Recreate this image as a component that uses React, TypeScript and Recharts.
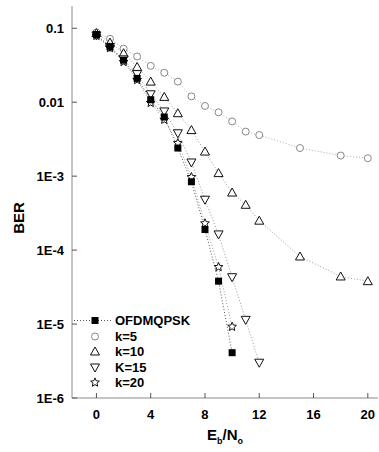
import React from "react";
import { Legend, Line, LineChart, XAxis, YAxis } from "recharts";

// Eb/No (dB) and BER
const xQpsk = [0, 1, 2, 3, 4, 5, 6, 7, 8, 9, 10];
const berQpsk = [0.082, 0.056, 0.037, 0.021, 0.0108, 0.0063, 0.0024, 8.4e-4, 1.9e-4, 3.8e-5, 4.1e-6];

const xK5 = [0, 1, 2, 3, 4, 5, 6, 7, 8, 9, 10, 11, 12, 15, 18, 20];
const berK5 = [0.088, 0.072, 0.053, 0.0415, 0.031, 0.025, 0.019, 0.012, 0.0089, 0.0073, 0.0055, 0.004, 0.0036, 0.0024, 0.0019, 0.00175];

const xK10 = [0, 1, 2, 3, 4, 5, 6, 7, 8, 9, 10, 11, 12, 15, 18, 20];
const berK10 = [0.086, 0.064, 0.046, 0.03, 0.019, 0.0118, 0.0071, 0.0042, 0.00215, 0.0011, 6.0e-4, 4.1e-4, 2.5e-4, 8.2e-5, 4.4e-5, 3.8e-5];

const xK15 = [0, 1, 2, 3, 4, 5, 6, 7, 8, 9, 10, 11, 12];
const berK15 = [0.08, 0.056, 0.038, 0.024, 0.0128, 0.0075, 0.0038, 0.00153, 4.8e-4, 1.63e-4, 4.3e-5, 1.14e-5, 3.0e-6];

const xK20 = [0, 1, 2, 3, 4, 5, 6, 7, 8, 9, 10];
const berK20 = [0.079, 0.054, 0.035, 0.02, 0.0098, 0.0058, 0.0028, 9.7e-4, 2.3e-4, 5.9e-5, 9.2e-6];

const seriesNames = ["OFDMQPSK", "k=5", "k=10", "K=15", "k=20"];

const xTicks = [0, 4, 8, 12, 16, 20];
const xMinorTicks = [2, 6, 10, 14, 18];
const yTicks = [1e-6, 1e-5, 1e-4, 1e-3, 0.01, 0.1];
const yTickLabels = ["1E-6", "1E-5", "1E-4", "1E-3", "0.01", "0.1"];
const yMinorTicks = yTicks
  .flatMap((d) => [2, 3, 4, 5, 6, 7, 8, 9].map((m) => d * m))
  .filter((v) => v < 0.2);

const X_DOMAIN: [number, number] = [-1.8, 20.75];
const Y_DOMAIN: [number, number] = [1e-6, 0.2];

const FONT = "Arial, 'Liberation Sans', Helvetica, sans-serif";
const AXIS = "#8a8a8a";

type Kind = "square" | "circle" | "triangle" | "down" | "star";
const kinds: Kind[] = ["square", "circle", "triangle", "down", "star"];

function Marker({ kind, cx, cy }: { kind: Kind; cx: number; cy: number }) {
  if (kind === "square") {
    return <rect x={cx - 3.5} y={cy - 3.5} width={7} height={7} fill="#000" />;
  }
  if (kind === "circle") {
    return <circle cx={cx} cy={cy} r={3.5} fill="#fff" stroke="#888" strokeWidth={1} />;
  }
  if (kind === "triangle") {
    const pts = `${cx},${cy - 4.5} ${cx + 4.5},${cy + 3.5} ${cx - 4.5},${cy + 3.5}`;
    return <polygon points={pts} fill="#fff" stroke="#111" strokeWidth={1} />;
  }
  if (kind === "down") {
    const pts = `${cx - 4.5},${cy - 3.5} ${cx + 4.5},${cy - 3.5} ${cx},${cy + 4.5}`;
    return <polygon points={pts} fill="#fff" stroke="#111" strokeWidth={1} />;
  }
  const pts: string[] = [];
  for (let i = 0; i < 10; i++) {
    const r = i % 2 === 0 ? 4.6 : 2.1;
    const a = -Math.PI / 2 + (i * Math.PI) / 5;
    pts.push(`${cx + r * Math.cos(a)},${cy + r * Math.sin(a)}`);
  }
  return <polygon points={pts.join(" ")} fill="#fff" stroke="#111" strokeWidth={1} />;
}

const dotFor = (kind: Kind) => (p: any) => (
  <g key={`${kind}-${p.index}`}>
    <Marker kind={kind} cx={p.cx} cy={p.cy} />
  </g>
);

const toRows = (xs: number[], ys: number[]) => xs.map((x, i) => ({ x, ber: ys[i] }));

function LegendBox() {
  return (
    <div style={{ fontFamily: FONT, fontWeight: 700, fontSize: 13, color: "#000" }}>
      {seriesNames.map((name, i) => (
        <div key={name} style={{ display: "flex", alignItems: "center", height: 15.5 }}>
          <svg width={45} height={15} style={{ display: "block" }}>
            {i === 0 && (
              <line x1={4} x2={42} y1={7.5} y2={7.5} stroke="#555" strokeDasharray="1 2" />
            )}
            <Marker kind={kinds[i]} cx={25} cy={7.5} />
          </svg>
          <span style={{ lineHeight: "15px" }}>{name}</span>
        </div>
      ))}
    </div>
  );
}

const tickStyle = { fontFamily: FONT, fontWeight: 700, fontSize: 13, fill: "#000" };

export default function App() {
  return (
    <div style={{ position: "absolute", left: 0, top: 0, width: 379, height: 452, background: "#fff" }}>
      <LineChart width={379} height={452} margin={{ top: 6, right: 1, bottom: 24, left: 0 }}>
        <XAxis
          dataKey="x"
          type="number"
          domain={X_DOMAIN}
          allowDataOverflow
          ticks={xTicks}
          interval={0}
          height={30}
          tickSize={-5}
          tickMargin={17}
          tick={tickStyle}
          tickLine={{ stroke: "#555" }}
          axisLine={{ stroke: AXIS }}
        />
        <XAxis
          xAxisId="top"
          orientation="top"
          type="number"
          domain={X_DOMAIN}
          allowDataOverflow
          ticks={xTicks}
          mirror
          height={0}
          tickSize={4}
          tick={false}
          tickLine={{ stroke: "#555" }}
          axisLine={{ stroke: AXIS }}
        />
        <XAxis
          xAxisId="minorB"
          type="number"
          domain={X_DOMAIN}
          allowDataOverflow
          ticks={xMinorTicks}
          mirror
          height={0}
          tickSize={2}
          tick={false}
          tickLine={{ stroke: "#777" }}
          axisLine={false}
        />
        <YAxis
          type="number"
          scale="log"
          domain={Y_DOMAIN}
          allowDataOverflow
          ticks={yTicks}
          interval={0}
          width={72}
          tickSize={-5}
          tickMargin={13}
          tick={tickStyle}
          tickFormatter={(v: number) => yTickLabels[yTicks.findIndex((t) => Math.abs(t - v) / t < 1e-6)] ?? ""}
          tickLine={{ stroke: "#555" }}
          axisLine={{ stroke: AXIS }}
        />
        <YAxis
          yAxisId="minorL"
          type="number"
          scale="log"
          domain={Y_DOMAIN}
          allowDataOverflow
          ticks={yMinorTicks}
          interval={0}
          mirror
          width={0}
          tickSize={2}
          tick={false}
          tickLine={{ stroke: "#777" }}
          axisLine={false}
        />
        <YAxis
          yAxisId="right"
          orientation="right"
          type="number"
          scale="log"
          domain={Y_DOMAIN}
          allowDataOverflow
          ticks={yTicks}
          interval={0}
          mirror
          width={0}
          tickSize={4}
          tick={false}
          tickLine={{ stroke: "#555" }}
          axisLine={{ stroke: AXIS }}
        />
        <YAxis
          yAxisId="minorR"
          orientation="right"
          type="number"
          scale="log"
          domain={Y_DOMAIN}
          allowDataOverflow
          ticks={yMinorTicks}
          interval={0}
          mirror
          width={0}
          tickSize={2}
          tick={false}
          tickLine={{ stroke: "#777" }}
          axisLine={false}
        />
        <Line
          data={toRows(xK5, berK5)}
          dataKey="ber"
          name={seriesNames[1]}
          stroke="#aaa"
          strokeDasharray="1 2"
          dot={dotFor("circle")}
          isAnimationActive={false}
        />
        <Line
          data={toRows(xK10, berK10)}
          dataKey="ber"
          name={seriesNames[2]}
          stroke="#999"
          strokeDasharray="1 2"
          dot={dotFor("triangle")}
          isAnimationActive={false}
        />
        <Line
          data={toRows(xK15, berK15)}
          dataKey="ber"
          name={seriesNames[3]}
          stroke="#999"
          strokeDasharray="1 2"
          dot={dotFor("down")}
          isAnimationActive={false}
        />
        <Line
          data={toRows(xK20, berK20)}
          dataKey="ber"
          name={seriesNames[4]}
          stroke="#999"
          strokeDasharray="1 2"
          dot={dotFor("star")}
          isAnimationActive={false}
        />
        <Line
          data={toRows(xQpsk, berQpsk)}
          dataKey="ber"
          name={seriesNames[0]}
          stroke="#555"
          strokeDasharray="1 2"
          dot={dotFor("square")}
          isAnimationActive={false}
        />
        <Legend
          layout="vertical"
          align="center"
          verticalAlign="middle"
          content={() => <LegendBox />}
          wrapperStyle={{ position: "absolute", left: 70, top: 313, width: 140, height: 80 }}
        />
      </LineChart>
      <div
        style={{
          position: "absolute",
          left: 18,
          top: 218,
          transform: "translate(-50%, -50%) rotate(-90deg)",
          fontFamily: FONT,
          fontWeight: 700,
          fontSize: 15,
          whiteSpace: "nowrap",
        }}
      >
        BER
      </div>
      <div
        style={{
          position: "absolute",
          left: 225,
          top: 438,
          transform: "translate(-50%, -50%)",
          fontFamily: FONT,
          fontWeight: 700,
          fontSize: 15,
          whiteSpace: "nowrap",
          lineHeight: "18px",
        }}
      >
        E<sub style={{ fontSize: 9 }}>b</sub>/N<sub style={{ fontSize: 9 }}>o</sub>
      </div>
    </div>
  );
}
